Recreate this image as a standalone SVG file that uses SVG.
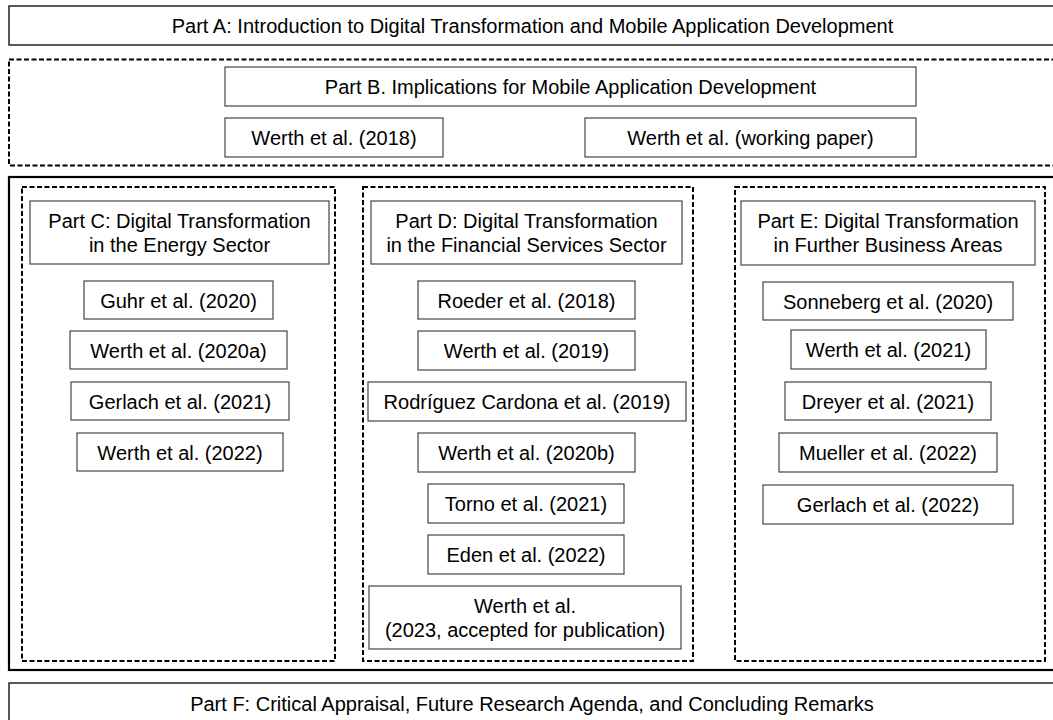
<svg xmlns="http://www.w3.org/2000/svg" width="1053" height="720" viewBox="0 0 1053 720">
  <style>
    text { font-family: "Liberation Sans", Arial, sans-serif; font-size: 20px; fill: #000; text-anchor: middle; }
    .part { fill: #fff; stroke: #000; stroke-width: 1.3; }
    .box { fill: #fff; stroke: #444; stroke-width: 1.2; }
    .dash { fill: none; stroke: #000; stroke-width: 2; stroke-dasharray: 5 2.5; }
    .frame { fill: none; stroke: #000; stroke-width: 2.2; }
  </style>
  <rect width="1053" height="720" fill="#fff"/>

  <!-- Part A -->
  <g id="partA">
    <rect class="part" x="9" y="6" width="1060" height="39"/>
    <text x="532.5" y="33">Part A: Introduction to Digital Transformation and Mobile Application Development</text>
  </g>

  <!-- Part B area -->
  <g id="partB-area">
    <rect class="dash" x="9" y="59.5" width="1060" height="106"/>
  </g>
  <g id="partB">
    <rect class="box" x="225" y="67" width="691" height="39"/>
    <text x="570.5" y="93.5">Part B. Implications for Mobile Application Development</text>
  </g>
  <g id="werth2018">
    <rect class="box" x="225" y="118" width="218" height="39"/>
    <text x="334" y="144.5">Werth et al. (2018)</text>
  </g>
  <g id="werthWP">
    <rect class="box" x="585" y="118" width="331" height="39"/>
    <text x="750.5" y="144.5">Werth et al. (working paper)</text>
  </g>

  <!-- Frame around parts C, D, E -->
  <g id="cde-frame">
    <rect class="frame" x="9" y="177" width="1060" height="493"/>
  </g>

  <!-- Part C column -->
  <g id="partC-area"><rect class="dash" x="22" y="187" width="313" height="474"/></g>
  <g id="partC">
    <rect class="box" x="30" y="201" width="299" height="63"/>
    <text x="179.5" y="228">Part C: Digital Transformation</text>
    <text x="179.5" y="252">in the Energy Sector</text>
  </g>
  <g id="guhr2020">
    <rect class="box" x="84" y="281" width="189" height="38"/>
    <text x="178.5" y="307.5">Guhr et al. (2020)</text>
  </g>
  <g id="werth2020a">
    <rect class="box" x="70" y="331" width="217" height="38"/>
    <text x="178.5" y="357.5">Werth et al. (2020a)</text>
  </g>
  <g id="gerlach2021">
    <rect class="box" x="71" y="382" width="218" height="38"/>
    <text x="180" y="408.5">Gerlach et al. (2021)</text>
  </g>
  <g id="werth2022">
    <rect class="box" x="77" y="433" width="206" height="38"/>
    <text x="180" y="459.5">Werth et al. (2022)</text>
  </g>

  <!-- Part D column -->
  <g id="partD-area"><rect class="dash" x="363" y="187" width="330" height="474"/></g>
  <g id="partD">
    <rect class="box" x="371" y="201" width="311" height="63"/>
    <text x="526.5" y="228">Part D: Digital Transformation</text>
    <text x="526.5" y="252">in the Financial Services Sector</text>
  </g>
  <g id="roeder2018">
    <rect class="box" x="418" y="281" width="217" height="38"/>
    <text x="526.5" y="307.5">Roeder et al. (2018)</text>
  </g>
  <g id="werth2019">
    <rect class="box" x="418" y="331" width="217" height="39"/>
    <text x="526.5" y="358">Werth et al. (2019)</text>
  </g>
  <g id="rodriguez2019">
    <rect class="box" x="368" y="382" width="318" height="39"/>
    <text x="527" y="409">Rodríguez Cardona et al. (2019)</text>
  </g>
  <g id="werth2020b">
    <rect class="box" x="418" y="433" width="217" height="39"/>
    <text x="526.5" y="460">Werth et al. (2020b)</text>
  </g>
  <g id="torno2021">
    <rect class="box" x="428" y="484" width="196" height="39"/>
    <text x="526" y="511">Torno et al. (2021)</text>
  </g>
  <g id="eden2022">
    <rect class="box" x="428" y="535" width="196" height="39"/>
    <text x="526" y="562">Eden et al. (2022)</text>
  </g>
  <g id="werth2023">
    <rect class="box" x="369" y="586" width="312" height="63"/>
    <text x="525" y="613">Werth et al.</text>
    <text x="525" y="637">(2023, accepted for publication)</text>
  </g>

  <!-- Part E column -->
  <g id="partE-area"><rect class="dash" x="735" y="187" width="310" height="474"/></g>
  <g id="partE">
    <rect class="box" x="741" y="201" width="294" height="64"/>
    <text x="888" y="228">Part E: Digital Transformation</text>
    <text x="888" y="252">in Further Business Areas</text>
  </g>
  <g id="sonneberg2020">
    <rect class="box" x="763" y="282" width="250" height="38"/>
    <text x="888" y="308.5">Sonneberg et al. (2020)</text>
  </g>
  <g id="werth2021">
    <rect class="box" x="791" y="330" width="195" height="39"/>
    <text x="888.5" y="357">Werth et al. (2021)</text>
  </g>
  <g id="dreyer2021">
    <rect class="box" x="785" y="382" width="206" height="38"/>
    <text x="888" y="408.5">Dreyer et al. (2021)</text>
  </g>
  <g id="mueller2022">
    <rect class="box" x="779" y="433" width="218" height="39"/>
    <text x="888" y="460">Mueller et al. (2022)</text>
  </g>
  <g id="gerlach2022">
    <rect class="box" x="763" y="485" width="250" height="39"/>
    <text x="888" y="512">Gerlach et al. (2022)</text>
  </g>

  <!-- Part F -->
  <g id="partF">
    <rect class="part" x="9" y="683" width="1060" height="60"/>
    <text x="532" y="711">Part F: Critical Appraisal, Future Research Agenda, and Concluding Remarks</text>
  </g>

  <g id="connectors"></g>
</svg>
